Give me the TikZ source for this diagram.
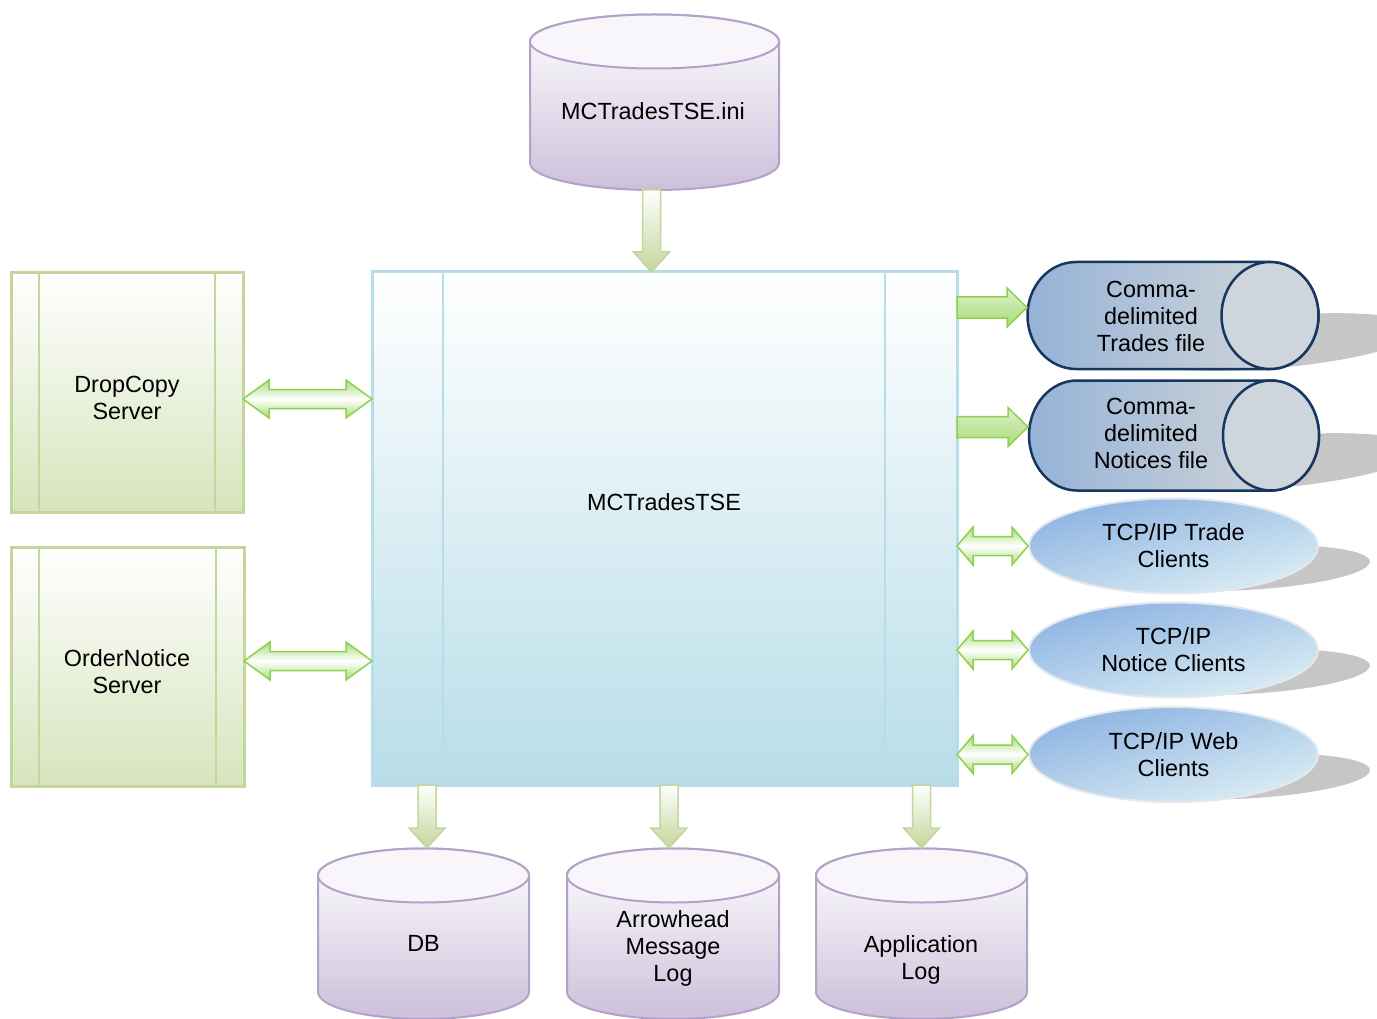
\documentclass[tikz,border=0pt]{standalone}
\usepackage{fontspec}
\setmainfont{Liberation Sans}
\usetikzlibrary{calc,shapes.geometric}
\definecolor{cylLine}{HTML}{B3A2C7}
\definecolor{cylBot}{HTML}{CCC0DA}
\definecolor{cylTop}{HTML}{F8F6FA}
\definecolor{grLine}{HTML}{C3D69B}
\definecolor{grBot}{HTML}{D7E4BD}
\definecolor{blLine}{HTML}{B7DDE8}
\definecolor{blBot}{HTML}{B7DDE8}
\definecolor{navy}{HTML}{17375E}
\definecolor{hcylL}{HTML}{95B3D7}
\definecolor{hcylR}{HTML}{D9D9D9}
\definecolor{hcylEnd}{HTML}{CFD5DD}
\definecolor{ellTop}{HTML}{8DB3E2}
\definecolor{ellBot}{HTML}{DBEEF4}
\definecolor{ellLine}{HTML}{E4E8EE}
\definecolor{arrLine}{HTML}{8ED14F}
\definecolor{arrLight}{HTML}{DDF1CB}
\definecolor{arrDark}{HTML}{A8DB78}
\definecolor{shadowc}{HTML}{C6C6C6}
\newcommand\vcylshape[4]{%
  \pgfmathsetmacro\cylrx{(#2-#1)/2}%
  \pgfmathsetmacro\cylcx{(#2+#1)/2}%
  \path[pcyl] (#1,#3) -- (#1,#4) arc[start angle=180,end angle=360,x radius=\cylrx,y radius=27] -- (#2,#3) arc[start angle=0,end angle=180,x radius=\cylrx,y radius=27] -- cycle;
  \path[pcyltop] (\cylcx,#3) ellipse[x radius=\cylrx,y radius=27];}
\newcommand\hcylshape[5]{%
  \path[hcylst] ($(#1,#3)+(0,#5)$) arc[start angle=90,end angle=270,x radius=#4,y radius=#5] -- ($(#2,#3)-(0,#5)$) arc[start angle=-90,end angle=90,x radius=#4,y radius=#5] -- cycle;
  \path[hcylend] (#2,#3) ellipse[x radius=#4,y radius=#5];}
\newcommand\dnarrow[2]{%
  \path[dnarrowst] let \p1=(#1), \p2=(#2) in
   (\x1-9pt,\y1) -- (\x1+9pt,\y1) -- (\x1+9pt,\y2+20pt) -- (\x1+18pt,\y2+20pt) -- (\x1,\y2) -- (\x1-18pt,\y2+20pt) -- (\x1-9pt,\y2+20pt) -- cycle;}
\newcommand\rtarrow[2]{%
  \path[rtarrowst] let \p1=(#1), \p2=(#2) in
   (\x1,\y1+10.5pt) -- (\x2-20pt,\y1+10.5pt) -- (\x2-20pt,\y1+19.5pt) -- (\x2,\y1) -- (\x2-20pt,\y1-19.5pt) -- (\x2-20pt,\y1-10.5pt) -- (\x1,\y1-10.5pt) -- cycle;}
\newcommand\dblarrow[3]{%
  \path[dblarrowst] let \p1=(#1), \p2=(#2) in
   (\x1,\y1) -- (\x1+#3,\y1+19pt) -- (\x1+#3,\y1+9.5pt) -- (\x2-#3,\y1+9.5pt) -- (\x2-#3,\y1+19pt) -- (\x2,\y1) -- (\x2-#3,\y1-19pt) -- (\x2-#3,\y1-9.5pt) -- (\x1+#3,\y1-9.5pt) -- (\x1+#3,\y1-19pt) -- cycle;}
\begin{document}
\begin{tikzpicture}[x=1pt,y=1pt,
  txt/.style={font=\fontsize{23.4}{27}\selectfont, align=center, inner sep=0pt, text=black},
  hold/.style={inner sep=0pt, outer sep=0pt, draw=none},
  pcyl/.style={draw=cylLine, line width=2pt, top color=white, bottom color=cylBot},
  pcyltop/.style={draw=cylLine, line width=2pt, fill=cylTop},
  gbox/.style={hold, draw=grLine, line width=3pt, top color=white, bottom color=grBot},
  gline/.style={draw=grLine, line width=2.5pt},
  mbox/.style={hold, draw=blLine, line width=3pt, top color=white, bottom color=blBot},
  bline/.style={draw=blLine, line width=2pt},
  hcylst/.style={draw=navy, line width=2.5pt, left color=hcylL, right color=hcylR},
  hcylend/.style={draw=navy, line width=2.5pt, fill=hcylEnd},
  ellnode/.style={ellipse, inner sep=0pt, draw=ellLine, line width=2pt, shading=axis, top color=ellTop, bottom color=ellBot, shading angle=15, minimum width=289pt, minimum height=95pt, font=\fontsize{23.4}{27}\selectfont, align=center},
  shadowst/.style={fill=shadowc},
  dnarrowst/.style={draw=grLine, line width=1.5pt, top color=white, bottom color=grLine},
  rtarrowst/.style={draw=arrLine, line width=1.5pt, top color=arrLight, bottom color=arrDark},
  dblarrowst/.style={draw=arrLine, line width=1.5pt, top color=arrDark, bottom color=arrDark, middle color=white}
]
\useasboundingbox (0,0) rectangle (1377,-1019);
\fill[white] (0,0) rectangle (1377,-1019);

% shadows
\begin{scope}
\clip (0,0) rectangle (1377,-1019);
\fill[shadowst, rotate around={5:(1275,-342)}] (1275,-342) ellipse[x radius=145,y radius=26];
\fill[shadowst, rotate around={5:(1275,-462)}] (1275,-462) ellipse[x radius=145,y radius=26];
\fill[shadowst, rotate around={3:(1245,-568)}] (1245,-568) ellipse[x radius=125,y radius=22];
\fill[shadowst, rotate around={3:(1245,-672)}] (1245,-672) ellipse[x radius=125,y radius=22];
\fill[shadowst, rotate around={3:(1245,-776.5)}] (1245,-776.5) ellipse[x radius=125,y radius=22];
\end{scope}

% main box
\node[mbox, minimum width=585pt, minimum height=513pt] (main) at (664.5,-528.5) {};
\draw[bline] (443,-272) -- (443,-785);
\draw[bline] (885,-272) -- (885,-785);
\node[txt] (mainT) at (664,-502) {MCTradesTSE};

% left servers
\node[gbox, minimum width=232pt, minimum height=239pt] (drop) at (127,-392.5) {};
\draw[gline] (39,-273) -- (39,-512);
\draw[gline] (215,-273) -- (215,-512);
\node[txt] (dropT) at (127,-398) {DropCopy\\Server};
\node[gbox, minimum width=233pt, minimum height=239pt] (order) at (127.5,-666.5) {};
\draw[gline] (39,-547) -- (39,-786);
\draw[gline] (216,-547) -- (216,-786);
\node[txt] (orderT) at (127,-672) {OrderNotice\\Server};

% top ini cylinder
\node[hold, minimum width=249pt, minimum height=176pt] (ini) at (654.5,-102) {};
\vcylshape{530}{779}{-41.5}{-163}
\node[txt] (iniT) at (653,-111) {MCTradesTSE.ini};

% bottom cylinders
\node[hold, minimum width=211pt, minimum height=172pt] (db) at (423.5,-934) {};
\vcylshape{318}{529}{-875.5}{-992}
\node[txt] (dbT) at (423.5,-943) {DB};
\node[hold, minimum width=212pt, minimum height=172pt] (amlog) at (673,-934) {};
\vcylshape{567}{779}{-875.5}{-992}
\node[txt] (amlogT) at (673,-948) {Arrowhead\\Message\\Log};
\node[hold, minimum width=211pt, minimum height=172pt] (applog) at (921.5,-934) {};
\vcylshape{816}{1027}{-875.5}{-992}
\node[txt] (applogT) at (921,-960) {Application\\Log};

% horizontal cylinders
\node[hold, minimum width=292pt, minimum height=107pt] (trades) at (1173,-315.5) {};
\hcylshape{1076}{1270}{-315.5}{48.5}{53.5}
\node[txt] (tradesT) at (1151,-316) {Comma-\\delimited\\Trades file};
\node[hold, minimum width=291pt, minimum height=110pt] (notices) at (1173.5,-435.5) {};
\hcylshape{1077}{1271}{-435.5}{48}{55}
\node[txt] (noticesT) at (1151,-433) {Comma-\\delimited\\Notices file};

% TCP/IP ellipses
\node[ellnode] (tcpA) at (1173.5,-546) {TCP/IP Trade\\Clients};
\node[ellnode] (tcpB) at (1173.5,-650) {TCP/IP\\Notice Clients};
\node[ellnode] (tcpC) at (1173.5,-754.5) {TCP/IP Web\\Clients};

% connectors
\dnarrow{$(ini.south)+(-3,0)$}{main.north}
\dnarrow{$(db.north |- main.south)+(3.5,0)$}{db.north}
\dnarrow{$(amlog.north |- main.south)+(-4,0)$}{amlog.north}
\dnarrow{applog.north |- main.south}{applog.north}
\rtarrow{$(main.east |- trades.west)+(0,8)$}{trades.west}
\rtarrow{$(main.east |- notices.west)+(0,8.5)$}{notices.west}
\dblarrow{main.east |- tcpA.west}{tcpA.west}{16pt}
\dblarrow{main.east |- tcpB.west}{tcpB.west}{16pt}
\dblarrow{main.east |- tcpC.west}{tcpC.west}{16pt}
\dblarrow{$(drop.east)+(0,-6.5)$}{$(main.west |- drop.east)+(0,-6.5)$}{26pt}
\dblarrow{$(order.east)+(0,5.5)$}{$(main.west |- order.east)+(0,5.5)$}{26pt}
\end{tikzpicture}
\end{document}
